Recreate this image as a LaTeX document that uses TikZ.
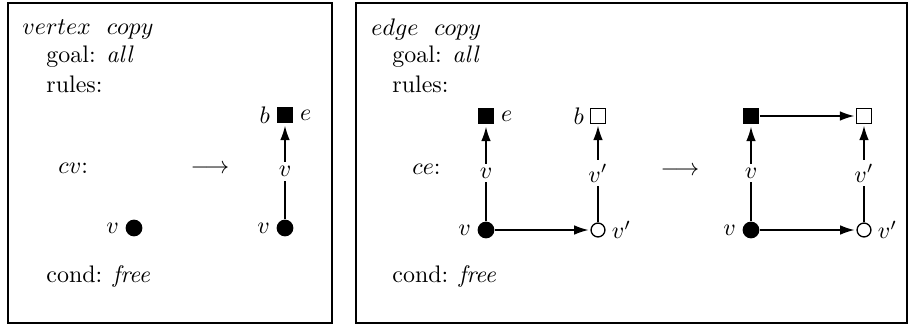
\documentclass[tikz,border=0pt]{standalone}
\usetikzlibrary{arrows.meta}
\begin{document}
\begin{tikzpicture}[x=0.418pt,y=-0.418pt,
  frame/.style={draw,line width=0.85pt},
  txt/.style={anchor=west,inner sep=0pt},
  every label/.style={inner sep=2.4pt},
  vfill/.style={circle,fill=black,inner sep=0pt,minimum size=7pt},
  vopen/.style={circle,draw,line width=0.55pt,fill=white,inner sep=0pt,minimum size=5.8pt},
  efill/.style={rectangle,fill=black,inner sep=0pt,minimum size=7pt},
  eopen/.style={rectangle,draw,line width=0.55pt,fill=white,inner sep=0pt,minimum size=6pt},
  conn/.style={line width=0.55pt,-{Latex[length=6pt,width=4pt]},shorten >=0.8pt},
  lab/.style={fill=white,inner sep=1.8pt,midway}
]
\useasboundingbox (0,0) rectangle (910,326);
% left box
\draw[frame] (8,3) rectangle (332,323);
\node[txt] (t1) at (22,29) {$vertex\ \ copy$};
\node[txt] (g1) at (46,57) {goal: \textit{all}};
\node[txt] (r1) at (46,84) {rules:};
\node[txt] (cv) at (58,168) {$cv$:};
\node (ar1) at (210,169) {$\longrightarrow$};
\node[vfill,label={left:$v$}] (lv) at (134,228) {};
\node[efill,label={left:$b$},label={right:$e$}] (re) at (285,115) {};
\node[vfill,label={left:$v$}] (rv) at (285,228) {};
\draw[conn] (rv) -- node[lab] {$v$} (re);
\node[txt] (c1) at (46,277) {cond: \textit{free}};
% right box
\draw[frame] (356,3) rectangle (907,323);
\node[txt] (t2) at (371,30) {$edge\ \ copy$};
\node[txt] (g2) at (392,57) {goal: \textit{all}};
\node[txt] (r2) at (392,84) {rules:};
\node[txt] (ce) at (412,169) {$ce$:};
% graph 1
\node[efill,label={right:$e$}] (ae) at (486,116) {};
\node[eopen,label={left:$b$}] (ab) at (598,116) {};
\node[vfill,label={left:$v$}] (av) at (486,230) {};
\node[vopen,label={right:$v'$}] (aw) at (598,230) {};
\draw[conn] (av) -- node[lab] {$v$} (ae);
\draw[conn] (aw) -- node[lab] {$v'$} (ab);
\draw[conn] (av) -- (aw);
\node (ar2) at (680,171) {$\longrightarrow$};
% graph 2
\node[efill] (be) at (751,116) {};
\node[eopen] (bb) at (864,116) {};
\node[vfill,label={left:$v$}] (bv) at (751,230) {};
\node[vopen,label={right:$v'$}] (bw) at (864,230) {};
\draw[conn] (bv) -- node[lab] {$v$} (be);
\draw[conn] (bw) -- node[lab] {$v'$} (bb);
\draw[conn] (bv) -- (bw);
\draw[conn] (be) -- (bb);
\node[txt] (c2) at (392,277) {cond: \textit{free}};
\end{tikzpicture}
\end{document}
